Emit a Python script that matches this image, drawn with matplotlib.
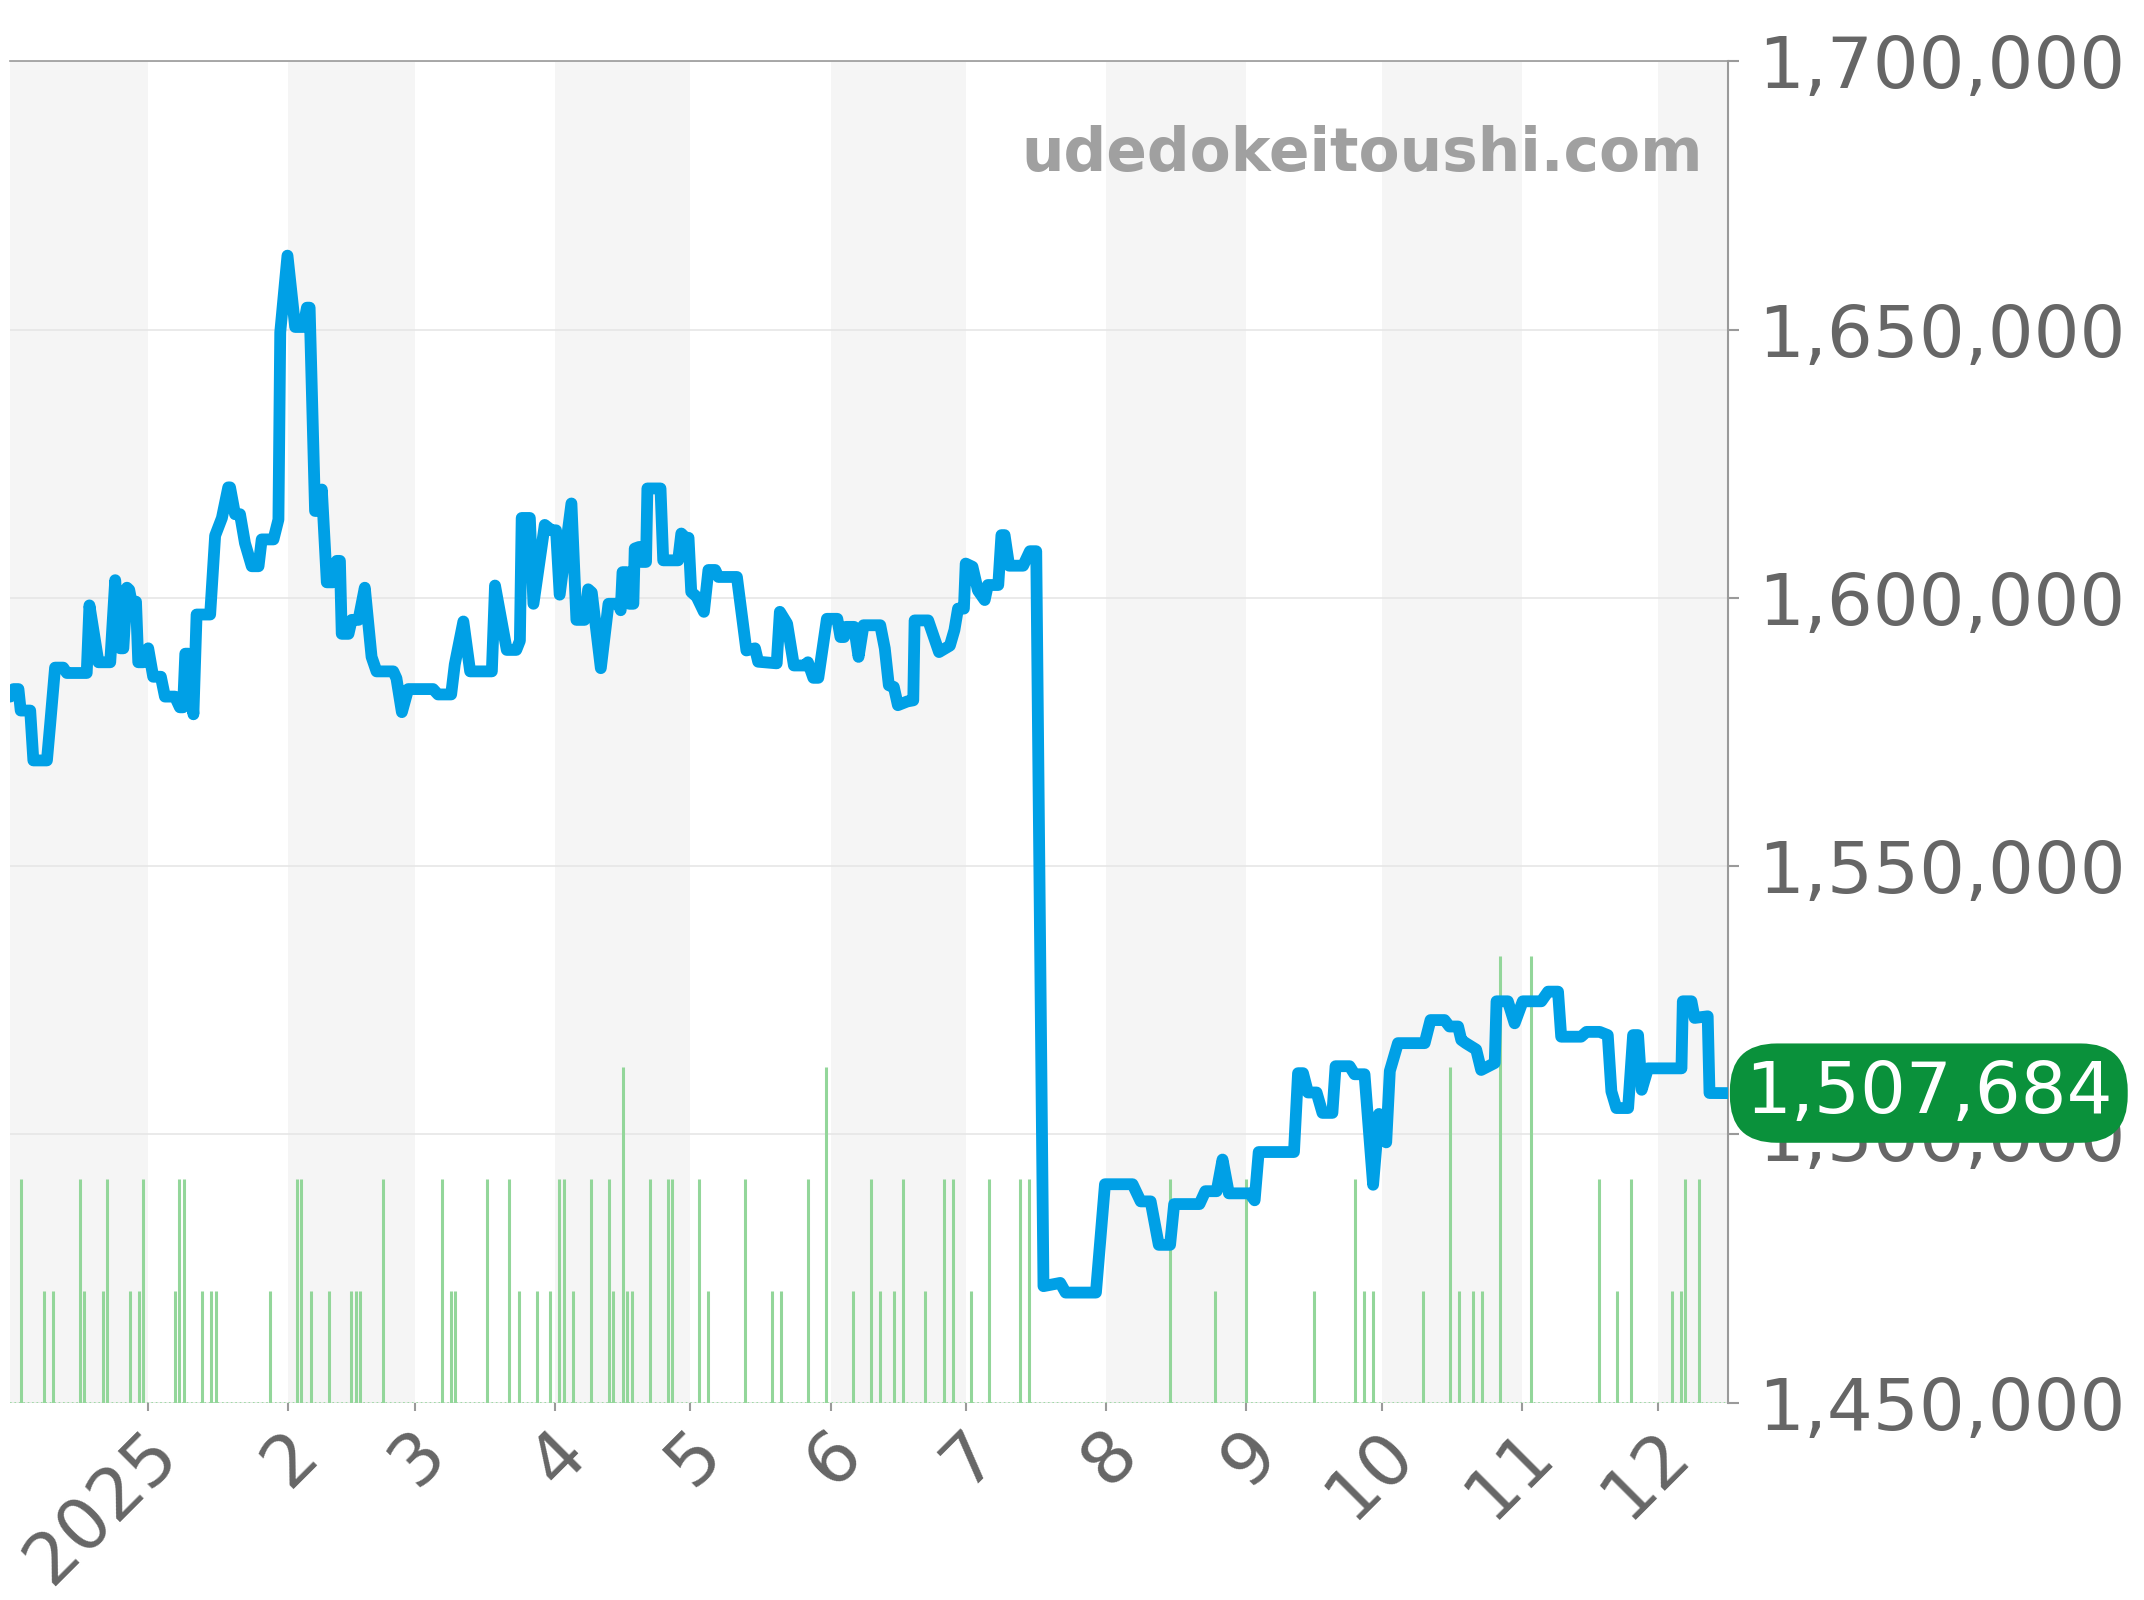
import datetime
import numpy as np
import matplotlib
matplotlib.use("Agg")
import matplotlib.pyplot as plt
import matplotlib.dates as mdates
import matplotlib.transforms as mtransforms
from matplotlib.ticker import FuncFormatter

# price history: day offset from 2025-01-01 -> price (yen)
price_days = [
    -30.4, -29.7, -28.6, -28.1, -26.0, -25.3, -22.3, -21.6, -20.5, -18.7,
    -17.9, -13.5, -12.9, -10.9, -8.3, -7.2, -6.1, -5.4, -4.6, -4.1,
    -3.6, -2.6, -2.1, -1.0, 0.1, 1.2, 2.9, 3.8, 6.0, 7.1,
    7.8, 8.3, 9.0, 10.1, 10.8, 13.8, 14.9, 16.4, 17.8, 18.2,
    19.3, 20.4, 21.5, 23.0, 24.5, 25.2, 27.8, 28.9, 29.3, 30.9,
    32.6, 34.4, 35.2, 35.8, 36.6, 37.0, 38.0, 38.5, 39.6, 41.0,
    41.8, 42.5, 42.9, 44.4, 45.1, 46.6, 48.0, 49.5, 50.6, 54.3,
    55.0, 56.2, 57.6, 63.1, 64.2, 67.1, 67.9, 69.8, 71.3, 76.1,
    76.8, 79.4, 81.5, 82.3, 82.7, 84.5, 85.3, 87.8, 89.3, 90.3,
    91.1, 93.7, 94.8, 96.6, 97.4, 98.2, 100.2, 101.9, 104.1, 104.6,
    105.0, 105.9, 106.5, 107.4, 107.7, 108.7, 109.2, 110.2, 110.5, 113.4,
    114.0, 117.3, 118.0, 118.9, 119.6, 120.2, 121.4, 123.0, 124.0, 125.5,
    126.2, 130.3, 132.4, 134.3, 135.0, 139.1, 139.8, 141.4, 142.9, 145.3,
    146.0, 147.2, 148.3, 150.2, 152.5, 153.2, 154.0, 154.4, 156.2, 157.2,
    158.3, 162.0, 163.0, 163.9, 165.0, 165.9, 168.0, 169.3, 169.6, 172.6,
    175.0, 177.4, 178.4, 179.2, 180.5, 180.9, 182.4, 183.6, 185.1, 185.8,
    188.1, 188.8, 189.5, 190.5, 193.6, 195.1, 196.5, 198.1, 201.8, 203.0,
    209.7, 211.7, 217.8, 219.6, 221.8, 223.6, 226.1, 227.0, 232.6, 233.9,
    236.4, 237.7, 239.1, 243.7, 244.8, 245.7, 253.5, 254.4, 255.5, 256.6,
    258.5, 259.8, 262.0, 262.7, 265.8, 266.9, 269.1, 271.0, 272.3, 273.9,
    274.7, 276.5, 282.4, 283.7, 286.8, 287.9, 289.8, 290.5, 291.5, 293.8,
    294.9, 297.9, 298.3, 300.8, 302.3, 304.1, 308.2, 309.7, 311.9, 312.6,
    317.0, 318.2, 321.1, 322.9, 323.7, 324.8, 327.4, 328.5, 329.6, 330.4,
    331.8, 339.2, 339.5, 341.4, 342.1, 345.0, 345.4, 349.6,
]
price_values = [
    1581600, 1583000, 1583000, 1579000, 1579000, 1569700, 1569700, 1576300, 1587000, 1587000,
    1586000, 1586000, 1598600, 1588000, 1588000, 1603300, 1590600, 1590600, 1601900, 1601500,
    1599300, 1599300, 1588000, 1588000, 1590600, 1585300, 1585300, 1581600, 1581600, 1579600,
    1579600, 1589600, 1589600, 1578300, 1596900, 1596900, 1611600, 1614900, 1620600, 1620600,
    1615600, 1615600, 1610200, 1605900, 1605900, 1610900, 1610900, 1614600, 1649500, 1663800,
    1650500, 1650500, 1654100, 1654100, 1628900, 1616200, 1616200, 1620200, 1602900, 1602900,
    1606900, 1606900, 1593300, 1593300, 1595900, 1595900, 1601900, 1589000, 1586300, 1586300,
    1585000, 1578700, 1583000, 1583000, 1582000, 1582000, 1587600, 1595600, 1586300, 1586300,
    1602300, 1590300, 1590300, 1592000, 1614900, 1614900, 1598900, 1613600, 1612600, 1612600,
    1600600, 1617600, 1595900, 1595900, 1601600, 1601000, 1586900, 1598900, 1598900, 1597700,
    1604800, 1604800, 1598900, 1598900, 1609200, 1609500, 1606700, 1606700, 1620400, 1620400,
    1607000, 1607000, 1612000, 1611200, 1611200, 1601100, 1600200, 1597400, 1605200, 1605200,
    1603900, 1603900, 1590200, 1590600, 1588100, 1587800, 1597400, 1595200, 1587400, 1587400,
    1588000, 1585100, 1585100, 1596100, 1596100, 1592700, 1592700, 1594600, 1594600, 1589000,
    1594900, 1594900, 1590600, 1583700, 1583400, 1580000, 1580700, 1580900, 1595800, 1595800,
    1589900, 1591100, 1594000, 1598000, 1598000, 1606400, 1605800, 1601400, 1599600, 1602400,
    1602400, 1611700, 1611700, 1606000, 1606000, 1608700, 1608700, 1471700, 1472300, 1470500,
    1470500, 1490700, 1490700, 1487500, 1487500, 1479400, 1479400, 1487000, 1487000, 1489400,
    1489400, 1495300, 1489000, 1489000, 1487700, 1496700, 1496700, 1511400, 1511400, 1507800,
    1507800, 1504000, 1504000, 1512700, 1512700, 1511200, 1511200, 1490600, 1503800, 1498500,
    1511800, 1517000, 1517000, 1521300, 1521300, 1520100, 1520100, 1517600, 1517000, 1515800,
    1512000, 1513300, 1524800, 1524800, 1520700, 1524800, 1524800, 1526600, 1526600, 1518200,
    1518200, 1519100, 1519100, 1518500, 1508000, 1504900, 1504900, 1518500, 1518500, 1508300,
    1512300, 1512300, 1524800, 1524800, 1521700, 1522000, 1507700, 1507684,
]

# number of listings per day (day offset from 2025-01-01)
volume_days = [
    -28, -23, -21, -15, -14, -10, -9, -4, -2, -1, 6, 7, 8, 12, 14, 15, 27, 33, 34, 36,
    40, 45, 46, 47, 52, 65, 67, 68, 75, 80, 82, 86, 89, 91, 92, 94, 98, 102, 103, 105,
    106, 107, 111, 115, 116, 122, 124, 132, 138, 140, 146, 150, 156, 160, 162, 165, 167, 172, 176, 178,
    182, 186, 193, 195, 226, 236, 243, 258, 267, 269, 271, 282, 288, 290, 293, 295, 299, 306, 321, 325,
    328, 337, 339, 340, 343,
]
volume_counts = [
    2, 1, 1, 2, 1, 1, 2, 1, 1, 2, 1, 2, 2, 1, 1, 1, 1, 2, 2, 1,
    1, 1, 1, 1, 2, 2, 1, 1, 2, 2, 1, 1, 1, 2, 2, 1, 2, 2, 1, 3,
    1, 1, 2, 2, 2, 2, 1, 2, 1, 1, 2, 3, 1, 2, 1, 1, 2, 1, 2, 2,
    1, 2, 2, 2, 2, 1, 2, 1, 2, 1, 1, 1, 3, 1, 1, 1, 4, 4, 2, 1,
    2, 1, 1, 2, 2,
]

month_labels = ["2025", "2", "3", "4", "5", "6", "7", "8", "9", "10", "11", "12"]
last_price = 1507684

base = mdates.date2num(datetime.datetime(2025, 1, 1))
x_price = base + np.array(price_days)
x_vol = base + np.array(volume_days)
month_starts = [mdates.date2num(datetime.datetime(2025, m, 1)) for m in range(1, 13)]

fig = plt.figure(figsize=(21.44, 16), dpi=100)
ax = fig.add_axes([0.0047, 0.1234, 0.8015, 0.8382])

ax.set_xlim(base - 30.45, base + 349.6)
ax.set_ylim(1450000, 1700000)

# alternating month shading
shade_starts = [mdates.date2num(datetime.datetime(2024, 12, 1))] + month_starts[1::2]
for s in shade_starts:
    e = mdates.date2num((mdates.num2date(s) + datetime.timedelta(days=32)).replace(day=1))
    ax.axvspan(s, e, color="#f5f5f5", lw=0, zorder=0)

ax.set_yticks(np.arange(1450000, 1700001, 50000))
ax.grid(axis="y", color="#e6e6e6", lw=1.2, zorder=0.5)
ax.set_axisbelow(True)

# volume bars along the bottom
ax.vlines(x_vol, 0, np.array(volume_counts) / 12.0, transform=ax.get_xaxis_transform(),
          color="#93d69a", lw=2.2, zorder=1)
ax.axhline(1450000, color="#93d69a", lw=1.2, ls=":", zorder=1)

ax.plot(x_price, price_values, color="#00a0e6", lw=8.5, solid_joinstyle="round",
        solid_capstyle="round", zorder=3)

for side in ["left", "bottom"]:
    ax.spines[side].set_visible(False)
ax.spines["top"].set_color("#9a9a9a")
ax.spines["right"].set_color("#9a9a9a")
ax.spines["top"].set_linewidth(1.2)
ax.spines["right"].set_linewidth(1.5)

ax.yaxis.tick_right()
ax.yaxis.set_major_formatter(FuncFormatter(lambda v, p: f"{int(v):,}"))
ax.tick_params(axis="y", which="both", length=8, width=1.5, color="#9a9a9a",
               labelsize=52, labelcolor="#666666", pad=13, left=False)

ax.set_xticks(month_starts)
ax.set_xticklabels(month_labels)
ax.tick_params(axis="x", length=6, width=1.5, color="#9a9a9a",
               labelsize=52, labelcolor="#666666", pad=14)
shift = mtransforms.ScaledTranslation(0.2, -0.12, fig.dpi_scale_trans)
for lab in ax.get_xticklabels():
    lab.set_rotation(45)
    lab.set_ha("right")
    lab.set_va("center")
    lab.set_rotation_mode("anchor")
    lab.set_transform(lab.get_transform() + shift)

ax.text(0.985, 0.918, "udedokeitoushi.com", transform=ax.transAxes, ha="right",
        va="baseline", fontsize=43, fontweight="bold", color="#a0a0a0", zorder=4)

# last price badge
pad = 0.21
trans = mtransforms.blended_transform_factory(ax.transAxes, ax.transData)
ax.annotate(f"{last_price:,}", xy=(1.0, last_price), xycoords=trans,
            xytext=(pad * 52 + 1, 0), textcoords="offset points", ha="left", va="center",
            fontsize=52, color="white", zorder=10, annotation_clip=False,
            bbox=dict(boxstyle=f"round,pad={pad},rounding_size=0.65", fc="#0a913b", ec="none"))

fig.savefig("out.png", dpi=100)
